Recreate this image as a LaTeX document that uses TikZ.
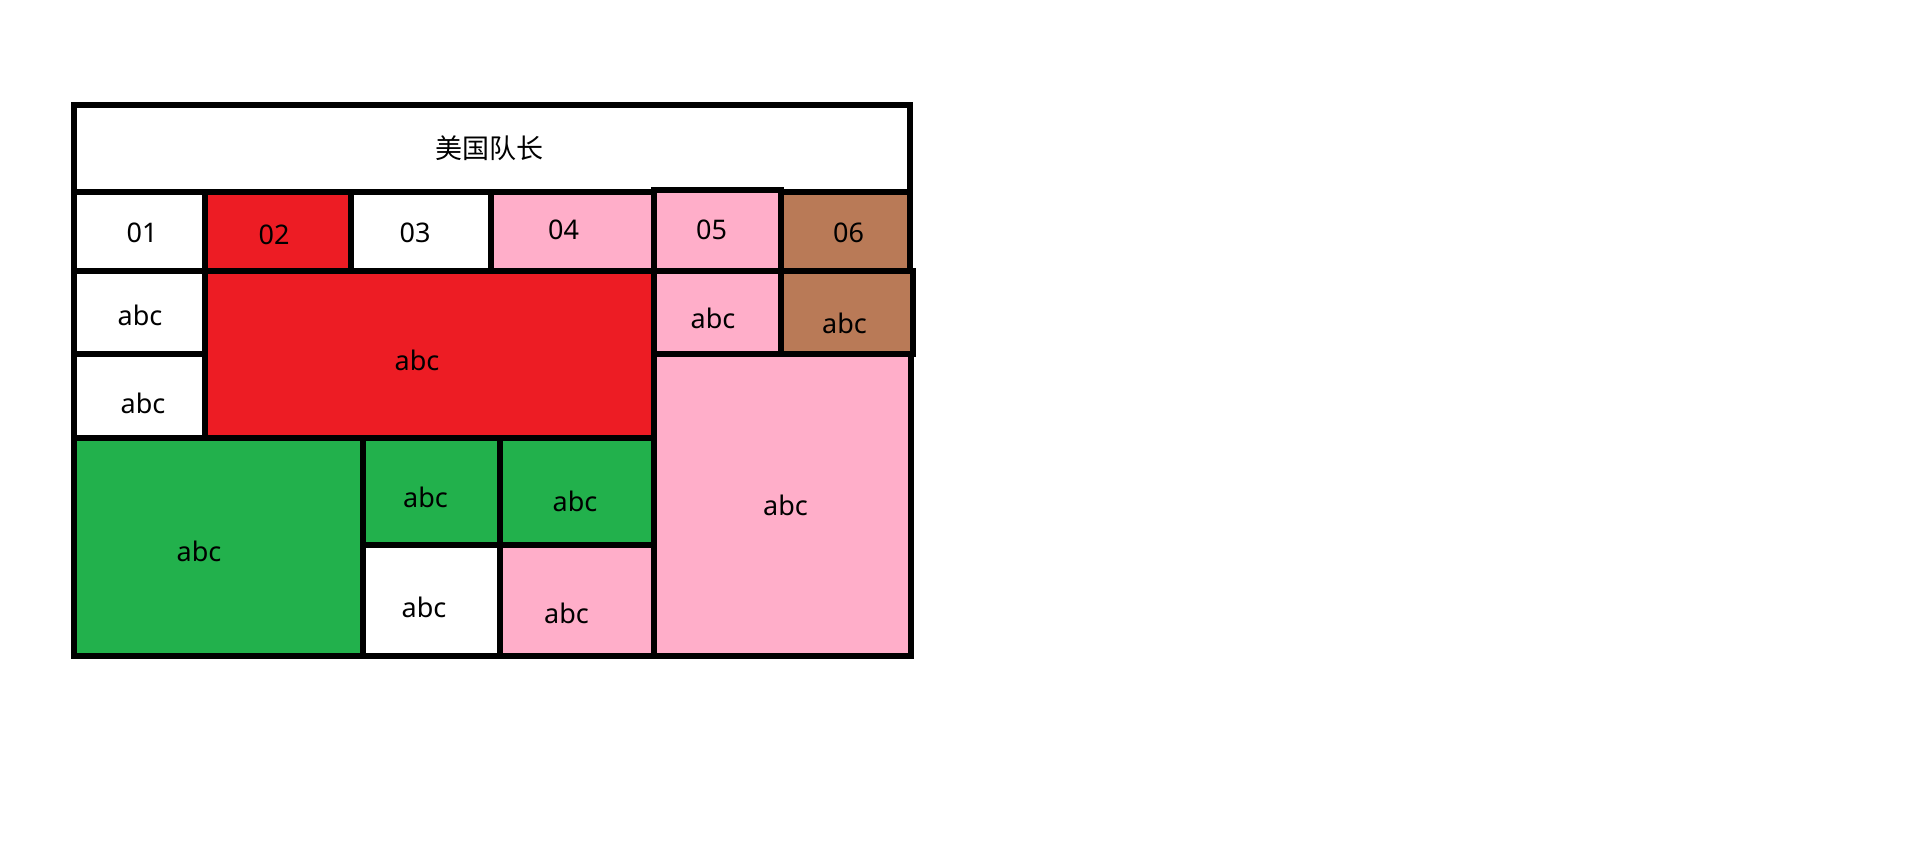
\documentclass[tikz,border=0pt]{standalone}
\usepackage{fontspec}
\setmainfont{Noto Sans}
\newfontfamily\cjk{Noto Sans CJK SC}
\definecolor{pred}{HTML}{ED1C24}
\definecolor{pgreen}{HTML}{22B14C}
\definecolor{ppink}{HTML}{FFAEC9}
\definecolor{pbrown}{HTML}{B97A57}
\tikzset{
  cell/.style={draw=black, line width=6pt, rectangle, inner sep=0pt, outer sep=0pt},
  txt/.style={inner sep=0pt, font=\fontsize{27}{30}\selectfont, text=black},
}
\newcommand\cellbox[6]{%
  \node[cell, fill=#6, minimum width={(#4-#2)*1pt}, minimum height={(#5-#3)*1pt}]
    (#1) at ({(#2+#4)/2},{(#3+#5)/2}) {};}
\begin{document}
\begin{tikzpicture}[x=1pt,y=-1pt]
\useasboundingbox[fill=white] (0,0) rectangle (1911,858);
% row 0: title
\cellbox{title}{74}{105.5}{910}{192}{white}
% row 1
\cellbox{c01}{74}{192}{205}{271.5}{white}
\cellbox{c02}{205}{192}{350.7}{271.5}{pred}
\cellbox{c03}{350.7}{192}{491}{271.5}{white}
\cellbox{c04}{491}{192}{654}{271.5}{ppink}
\cellbox{c05}{654}{190}{781}{271.5}{ppink}
\cellbox{c06}{781}{192}{910}{271.5}{pbrown}
% row 2
\cellbox{l1}{74}{271.5}{205}{354}{white}
\cellbox{l2}{74}{354}{205}{438}{white}
\cellbox{red}{205}{271.5}{654}{438}{pred}
\cellbox{r1}{654}{271.5}{781}{354}{ppink}
\cellbox{r2}{781}{271.5}{913}{354}{pbrown}
\cellbox{bigpink}{654}{354}{911}{655.7}{ppink}
% row 3
\cellbox{green}{74}{438}{362.5}{655.7}{pgreen}
\cellbox{gs1}{362.5}{438}{500}{544.5}{pgreen}
\cellbox{gs2}{500}{438}{654}{544.5}{pgreen}
\cellbox{ws}{362.5}{544.5}{500}{655.7}{white}
\cellbox{ps}{500}{544.5}{654}{655.7}{ppink}
% texts
\node[txt, font=\cjk\fontsize{27}{30}\selectfont] (ttitle) at (489,148) {美国队长};
\node[txt] (t01) at (142,233) {01};
\node[txt] (t02) at (274,235) {02};
\node[txt] (t03) at (415,233) {03};
\node[txt] (t04) at (563.5,230) {04};
\node[txt] (t05) at (711.5,230) {05};
\node[txt] (t06) at (848.5,233) {06};
\node[txt] (tl1) at (140,315) {abc};
\node[txt] (tl2) at (143,403) {abc};
\node[txt] (tred) at (417,360) {abc};
\node[txt] (tr1) at (713,318) {abc};
\node[txt] (tr2) at (844.5,323) {abc};
\node[txt] (tbig) at (785.5,505) {abc};
\node[txt] (tgreen) at (199,551) {abc};
\node[txt] (tgs1) at (425.5,497) {abc};
\node[txt] (tgs2) at (575,501) {abc};
\node[txt] (tws) at (424,607) {abc};
\node[txt] (tps) at (566.5,613) {abc};
\end{tikzpicture}
\end{document}
